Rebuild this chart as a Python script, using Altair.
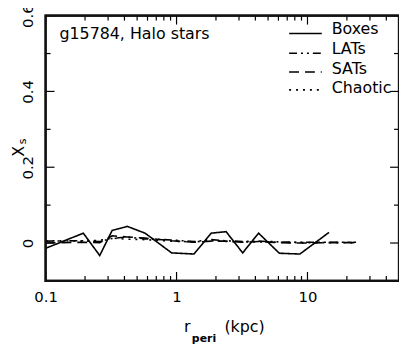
import altair as alt
import pandas as pd

# ---- data ----
box_r = [0.1, 0.194, 0.259, 0.322, 0.42, 0.575, 0.917, 1.36, 1.84, 2.39, 3.2, 4.23, 6.1, 8.75, 14.6]
box_x = [-0.014, 0.026, -0.033, 0.033, 0.044, 0.026, -0.026, -0.029, 0.026, 0.030, -0.026, 0.026, -0.027, -0.029, 0.028]

oth_r = [0.1, 0.194, 0.259, 0.322, 0.42, 0.575, 0.917, 1.36, 1.84, 2.39, 3.2, 4.23, 6.1, 8.75, 14.6, 23.5]
lat_x = [0.005, 0.006, 0.004, 0.012, 0.016, 0.011, 0.008, 0.004, 0.009, 0.006, 0.004, 0.005, 0.003, 0.002, 0.002, 0.002]
sat_x = [0.000, 0.002, 0.001, 0.019, 0.016, 0.013, 0.006, 0.002, 0.005, 0.005, 0.002, 0.004, 0.001, 0.000, 0.001, 0.001]
cha_x = [0.006, 0.005, 0.007, 0.013, 0.010, 0.009, 0.005, 0.003, 0.006, 0.004, 0.003, 0.003, 0.002, 0.001, 0.001, 0.001]

series = ["Boxes", "LATs", "SATs", "Chaotic"]
dashes = [[1, 0], [8, 4, 2, 4, 2, 4], [10, 6], [2, 5]]

x_domain = [0.1, 50]
y_domain = [-0.1, 0.6]
x_major = [0.1, 1, 10]
x_minor = [0.2, 0.3, 0.4, 0.5, 0.6, 0.7, 0.8, 0.9, 2, 3, 4, 5, 6, 7, 8, 9, 20, 30, 40]
y_major = [0, 0.2, 0.4, 0.6]
y_minor = [0.1, 0.3, 0.5]

W, H = 357, 268
FONT = "DejaVu Sans"

rows = []
for r, v in zip(box_r, box_x):
    rows.append({"r": r, "v": v, "s": "Boxes"})
for name, vals in [("LATs", lat_x), ("SATs", sat_x), ("Chaotic", cha_x)]:
    for r, v in zip(oth_r, vals):
        rows.append({"r": r, "v": v, "s": name})
df = pd.DataFrame(rows)

xs = alt.Scale(type="log", domain=x_domain, nice=False)
ys = alt.Scale(domain=y_domain, nice=False, zero=False)
dash_scale = alt.Scale(domain=series, range=dashes)

ax_x = alt.Axis(values=x_major, format="~g", title=None,
                labelFontSize=15, labelFont=FONT, labelColor="black", labelFlush=False,
                ticks=False, tickSize=0, domain=False, grid=False, labelPadding=9)
ax_y = alt.Axis(values=y_major, format="~g", title=None,
                labelFontSize=15, labelFont=FONT, labelColor="black", labelFlush=False,
                labelAngle=270, labelAlign="center", labelBaseline="bottom",
                ticks=False, tickSize=0, domain=False, grid=False, labelPadding=10)

lines = alt.Chart(df).mark_line(color="black", strokeWidth=1.6, clip=True).encode(
    x=alt.X("r:Q", scale=xs, axis=ax_x),
    y=alt.Y("v:Q", scale=ys, axis=ax_y),
    strokeDash=alt.StrokeDash("s:N", scale=dash_scale, legend=None),
    detail="s:N",
)

# plot frame as an unfilled rectangle spanning the full domain
frame_df = pd.DataFrame({"x0": [x_domain[0]], "x1": [x_domain[1]],
                         "y0": [y_domain[0]], "y1": [y_domain[1]]})
frame = alt.Chart(frame_df).mark_rect(fill="transparent", stroke="#111111",
                                      strokeWidth=2.2, fillOpacity=0, strokeOpacity=1).encode(
    x=alt.X("x0:Q", scale=xs, axis=ax_x), x2="x1:Q",
    y=alt.Y("y0:Q", scale=ys, axis=ax_y), y2="y1:Q",
)

def xticks(vals, length):
    d = pd.DataFrame({"t": vals})
    bot = alt.Chart(d).mark_rule(color="black", strokeWidth=1.2).encode(
        x=alt.X("t:Q", scale=xs, axis=ax_x), y=alt.value(H), y2=alt.value(H - length))
    top = alt.Chart(d).mark_rule(color="black", strokeWidth=1.2).encode(
        x=alt.X("t:Q", scale=xs, axis=ax_x), y=alt.value(0), y2=alt.value(length))
    return [bot, top]

def yticks(vals, length):
    d = pd.DataFrame({"t": vals})
    left = alt.Chart(d).mark_rule(color="black", strokeWidth=1.2).encode(
        y=alt.Y("t:Q", scale=ys, axis=ax_y), x=alt.value(0), x2=alt.value(length))
    right = alt.Chart(d).mark_rule(color="black", strokeWidth=1.2).encode(
        y=alt.Y("t:Q", scale=ys, axis=ax_y), x=alt.value(W), x2=alt.value(W - length))
    return [left, right]

tick_layers = xticks(x_major, 9) + xticks(x_minor, 5) + yticks(y_major, 9) + yticks(y_minor, 5)

one = pd.DataFrame({"a": [0]})

def text(t, x, y, size=16, angle=0, align="left", baseline="alphabetic", weight="normal"):
    return alt.Chart(one).mark_text(text=t, font=FONT, fontSize=size, angle=angle, align=align,
                                    baseline=baseline, color="black", fontWeight=weight).encode(
        x=alt.value(x), y=alt.value(y))

labels = [
    text("g15784, Halo stars", 14, 24),
    text("r", 143, 320, size=16, align="center"),
    text("peri", 160, 330, size=11, align="center", weight="bold"),
    text("(kpc)", 201, 320, size=16, align="center"),
    text("X", -27, 137, size=16, angle=270, align="center", baseline="middle"),
    text("s", -23, 127, size=11, angle=270, align="center", baseline="middle"),
]

legend_layers = []
leg_sym_y = [18, 38, 57, 75]
leg_txt_y = [19, 39, 59, 78]
for name, dsh, sy, ty in zip(series, dashes, leg_sym_y, leg_txt_y):
    legend_layers.append(
        alt.Chart(one).mark_rule(color="black", strokeWidth=1.6, strokeDash=dsh).encode(
            x=alt.value(246), x2=alt.value(279), y=alt.value(sy)))
    legend_layers.append(text(name, 289, ty))

chart = alt.layer(lines, *tick_layers, *labels, *legend_layers, frame).properties(
    width=W, height=H,
    background="white",
    autosize=alt.AutoSizeParams(type="none"),
    padding={"left": 38, "top": 6, "right": 0, "bottom": 62},
).configure_view(stroke="#111111", strokeWidth=2.2)

chart.save("out.html", embed_options={"renderer": "svg", "actions": False})
